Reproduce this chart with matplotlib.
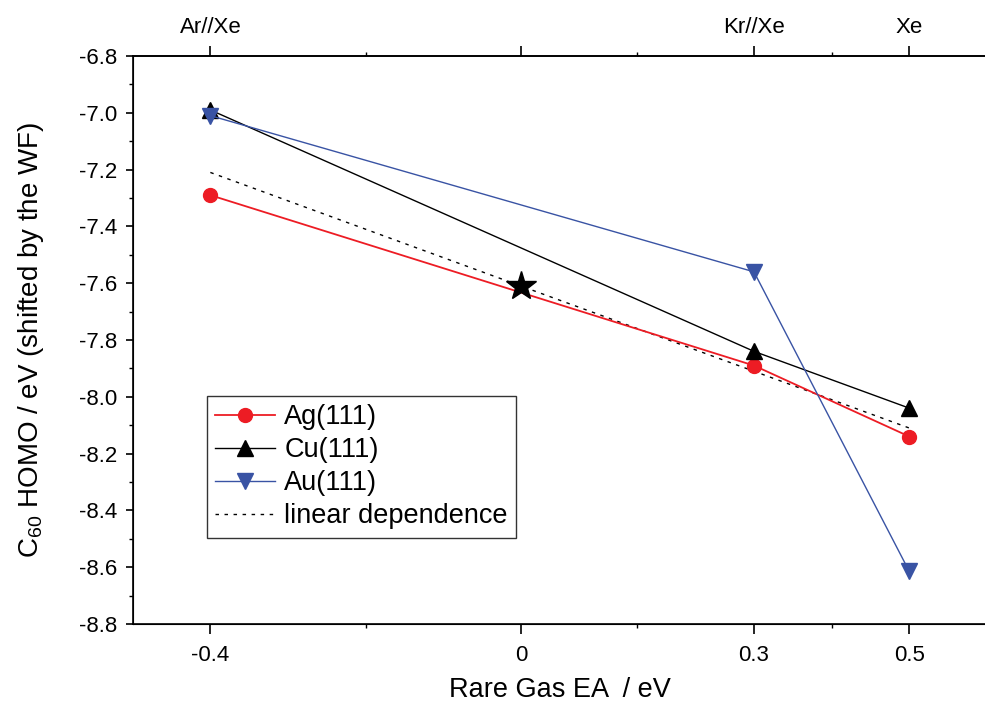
import matplotlib
matplotlib.use("Agg")
import matplotlib.pyplot as plt
from matplotlib.ticker import FixedLocator

plt.rcParams['font.family'] = ['Liberation Sans', 'DejaVu Sans']
plt.rcParams['mathtext.fontset'] = 'custom'
plt.rcParams['mathtext.rm'] = 'Liberation Sans'

# data
ag_x = [-0.4, 0.3, 0.5]
ag_y = [-7.29, -7.89, -8.14]
cu_x = [-0.4, 0.3, 0.5]
cu_y = [-6.99, -7.84, -8.04]
au_x = [-0.4, 0.3, 0.5]
au_y = [-7.01, -7.56, -8.615]
lin_x = [-0.4, 0.5]
lin_y = [-7.21, -8.11]
star_x = [0.0]
star_y = [-7.61]

bottom_ticks = [-0.4, 0, 0.3, 0.5]
bottom_labels = ['-0.4', '0', '0.3', '0.5']
top_labels = ['Ar//Xe', '', 'Kr//Xe', 'Xe']
minor_x = [-0.2, 0.15, 0.4]

red = '#ed1c24'
blue = '#3953a4'

fig = plt.figure(figsize=(9.85, 7.09), dpi=100)
ax = fig.add_axes([0.1347, 0.1199, 0.8673, 0.8011])

ax.plot(lin_x, lin_y, color='black', linestyle=(0, (2.5, 4)), linewidth=1.0,
        label='linear dependence', zorder=2)
ax.plot(ag_x, ag_y, color=red, linewidth=1.3, marker='o', markersize=10,
        label='Ag(111)', zorder=3)
ax.plot(cu_x, cu_y, color='black', linewidth=1.0, marker='^', markersize=11,
        label='Cu(111)', zorder=3)
ax.plot(au_x, au_y, color=blue, linewidth=1.0, marker='v', markersize=11,
        label='Au(111)', zorder=3)
ax.plot(star_x, star_y, linestyle='none', marker='*', markersize=22,
        color='black', zorder=4)

ax.set_xlim(-0.5, 0.6)
ax.set_ylim(-8.8, -6.8)

ax.set_xticks(bottom_ticks)
ax.set_xticklabels(bottom_labels)
ax.xaxis.set_minor_locator(FixedLocator(minor_x))
ax.set_yticks([-6.8 - 0.2 * i for i in range(11)])
ax.set_yticklabels(['%.1f' % (-6.8 - 0.2 * i) for i in range(11)])
ax.yaxis.set_minor_locator(FixedLocator([-6.9 - 0.2 * i for i in range(10)]))

ax.tick_params(which='major', direction='out', length=5, width=1.2, labelsize=16, pad=6)
ax.tick_params(which='minor', direction='out', length=3, width=1.0)
ax.tick_params(axis='x', which='major', length=7, pad=8)

ax.spines['right'].set_visible(False)
for s in ['left', 'bottom', 'top']:
    ax.spines[s].set_linewidth(1.2)

top = ax.twiny()
top.set_xlim(ax.get_xlim())
top.set_xticks(bottom_ticks)
top.set_xticklabels(top_labels)
top.xaxis.set_minor_locator(FixedLocator(minor_x))
top.tick_params(which='major', direction='out', length=7, width=1.2, labelsize=16, pad=6)
top.tick_params(which='minor', direction='out', length=3, width=1.0)
top.spines['right'].set_visible(False)
top.spines['top'].set_linewidth(1.2)

ax.set_xlabel('Rare Gas EA  / eV', fontsize=19.5, labelpad=8)
ax.set_ylabel('C$_\\mathregular{60}$ HOMO / eV (shifted by the WF)', fontsize=20, labelpad=24)

handles, labels = ax.get_legend_handles_labels()
order = [1, 2, 3, 0]
leg = ax.legend([handles[i] for i in order], [labels[i] for i in order],
                loc='upper left', bbox_to_anchor=(0.087, 0.401), fontsize=19.5,
                frameon=True, fancybox=False, edgecolor='black',
                handlelength=2.2, handletextpad=0.35, labelspacing=0.26,
                borderpad=0.3, borderaxespad=0)
leg.get_frame().set_linewidth(1.0)

fig.savefig('out.png', dpi=100)
